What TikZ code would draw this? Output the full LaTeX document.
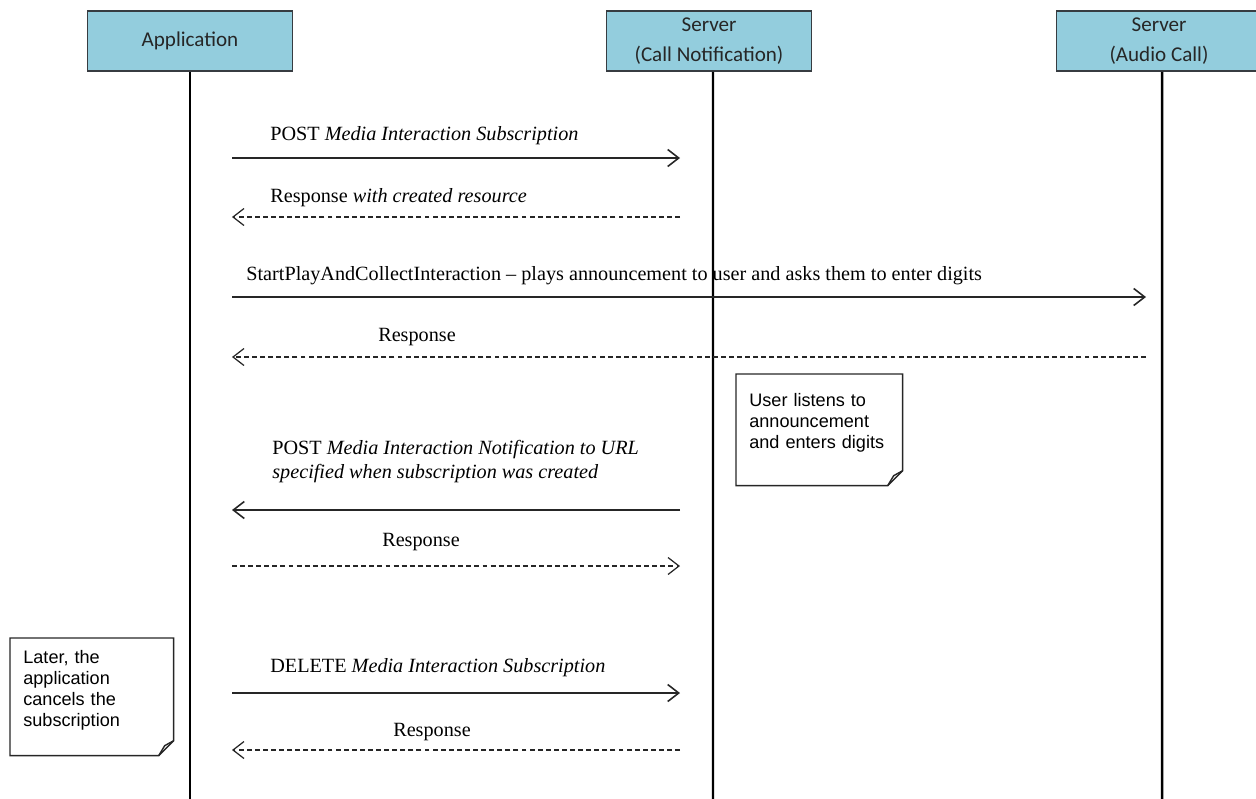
\documentclass[tikz,border=0pt]{standalone}
\usepackage{fontspec}
\setmainfont{Liberation Serif}
\newfontfamily\boxfont{Carlito}
\newfontfamily\notefont{Liberation Sans}
\usetikzlibrary{arrows.meta}
\definecolor{party area}{RGB}{147,205,221}
\definecolor{party edge}{RGB}{55,60,65}
\tikzset{party/.style={draw=party edge, fill=party area, line width=1pt,
        minimum width=4.1cm, minimum height=1.2cm, align=center,
        font=\boxfont\fontsize{12}{17}\selectfont, text=black!85},
    lifeline/.style={line width=1.4pt},
    msg/.style={line width=0.9pt, draw=black!85, -{Straight Barb[length=0.22cm, width=0.34cm]}},
    reply/.style={msg, line width=0.7pt, dash pattern=on 2.8pt off 1.8pt},
    msglabel/.style={font=\fontsize{11.5}{13.6}\selectfont, inner sep=0pt},
    note/.style={anchor=north west, inner xsep=0.26cm, text width=2.8cm, align=left,
        font=\notefont\fontsize{10.3}{12}\selectfont},
    noteedge/.style={draw=black!85, line width=0.8pt}}

\begin{document}
\begin{tikzpicture}[x=0.02cm, y=-0.02cm]
    \useasboundingbox (0,0) rectangle (1256,798);

    % parties and their lifelines
    \node[party] (app)   at (190,41)  {Application};
    \node[party] (notif) at (709,41)  {Server\\(Call Notification)};
    \node[party] (audio) at (1159,41) {Server\\(Audio Call)};
    \coordinate (app end)   at (190,800);
    \coordinate (notif end) at (713,800);
    \coordinate (audio end) at (1162,800);

    % labels
    \node[msglabel, anchor=base west] (l1) at (270,140) {POST \textit{Media Interaction Subscription}};
    \node[msglabel, anchor=base west] (l2) at (270,202) {Response \textit{with created resource}};
    \node[msglabel, anchor=base west] (l3) at (246,280) {StartPlayAndCollectInteraction -- plays announcement to user and asks them to enter digits};
    \node[msglabel, anchor=base] (l4) at (417,341) {Response};
    \node[msglabel, anchor=north west, align=left] (l5) at (272,440)
        {POST \textit{Media Interaction Notification to URL}\\\textit{specified when subscription was created}};
    \node[msglabel, anchor=base] (l6) at (421,546) {Response};
    \node[msglabel, anchor=base west] (l7) at (270,672) {DELETE \textit{Media Interaction Subscription}};
    \node[msglabel, anchor=base] (l8) at (432,736) {Response};

    \draw[lifeline] (app.south)   -- (app end);
    \draw[lifeline] ([xshift=0.08cm]notif.south) -- (notif end);
    \draw[lifeline] ([xshift=0.06cm]audio.south) -- (audio end);

    % messages
    \coordinate (a1) at (232,158); \coordinate (n1) at (680,158);
    \coordinate (a2) at (232,217); \coordinate (n2) at (680,217);
    \coordinate (a3) at (232,297); \coordinate (s3) at (1146,297);
    \coordinate (a4) at (232,357); \coordinate (s4) at (1146,357);
    \coordinate (a5) at (232,510); \coordinate (n5) at (680,510);
    \coordinate (a6) at (232,566); \coordinate (n6) at (680,566);
    \coordinate (a7) at (232,693); \coordinate (n7) at (680,693);
    \coordinate (a8) at (232,750); \coordinate (n8) at (680,750);
    \draw[msg]   (a1) -- (n1);
    \draw[reply] (n2) -- (a2);
    \draw[msg]   (a3) -- (s3);
    \draw[reply] (s4) -- (a4);
    \draw[msg]   (n5) -- (a5);
    \draw[reply] (a6) -- (n6);
    \draw[msg]   (a7) -- (n7);
    \draw[reply] (n8) -- (a8);

    % notes with folded corner
    \node[note, minimum width=3.3cm, minimum height=2.22cm] (user) at (736,374)
        {User listens to\\announcement\\and enters digits\\[-0.08cm]\mbox{}};
    \node[note, minimum width=3.26cm, minimum height=2.34cm, text width=2.74cm] (later) at (10,638)
        {Later, the\\application\\cancels the\\subscription\\[-0.08cm]\mbox{}};
    \foreach \n in {user, later} {
        \draw[noteedge] (\n.north west) -- (\n.north east) -- ([yshift=0.3cm]\n.south east)
            -- ([xshift=-0.3cm]\n.south east) -- (\n.south west) -- cycle;
        \draw[noteedge] ([xshift=-0.3cm]\n.south east)
            .. controls ([xshift=-0.24cm,yshift=0.12cm]\n.south east) .. ([xshift=-0.18cm,yshift=0.2cm]\n.south east)
            -- ([yshift=0.3cm]\n.south east);
    }
\end{tikzpicture}
\end{document}
